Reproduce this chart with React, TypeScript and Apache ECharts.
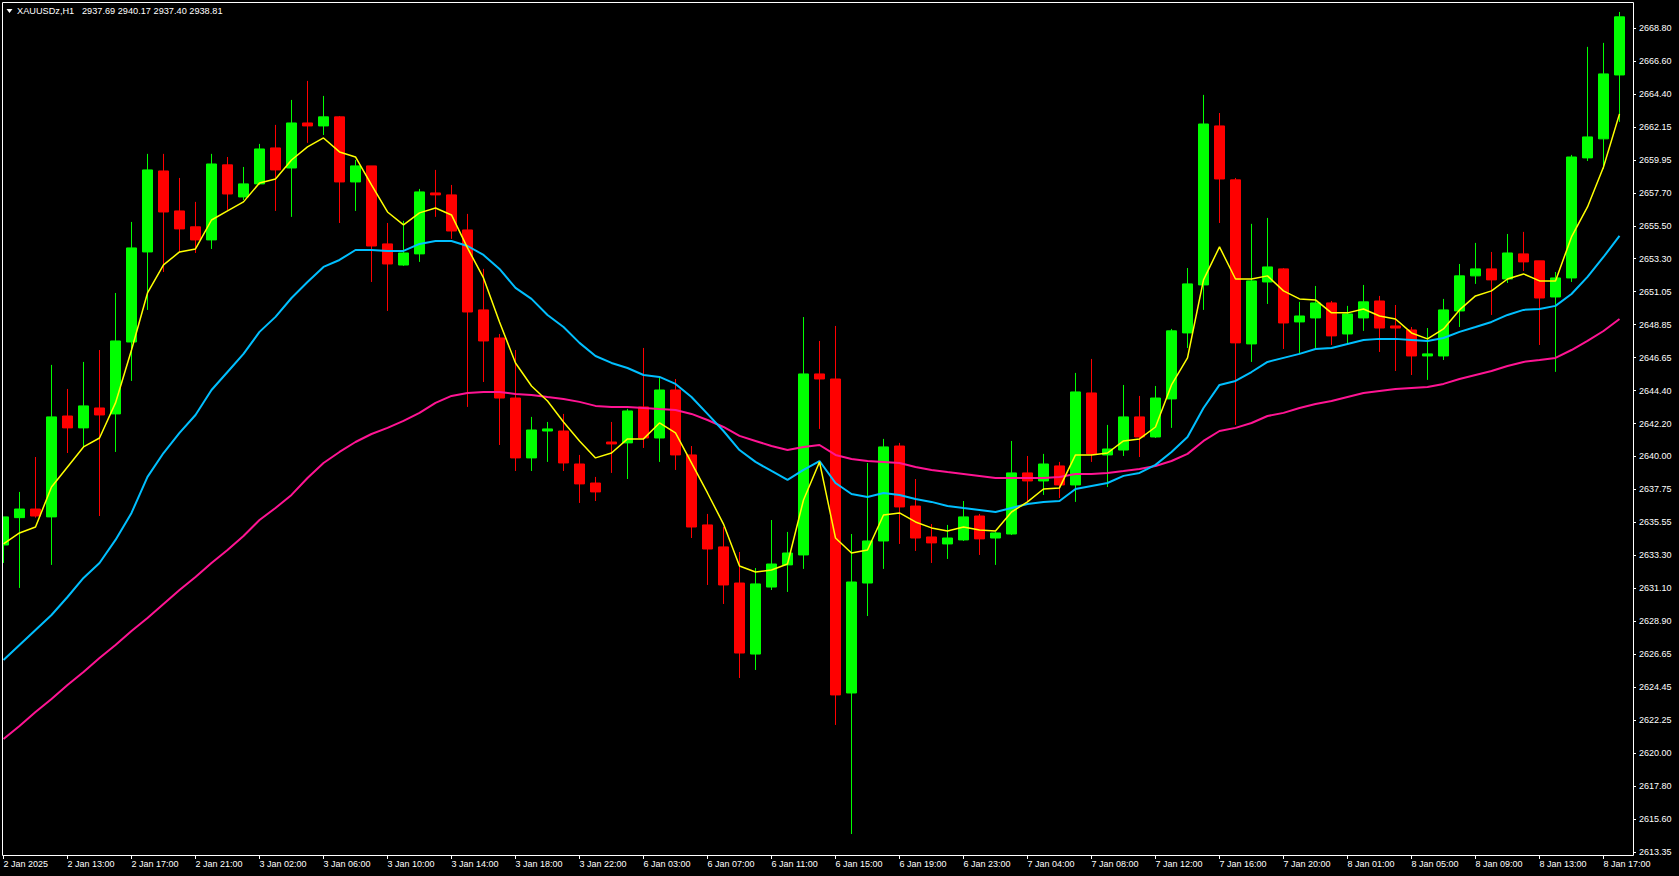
import React, { useEffect, useRef } from "react";
import * as echarts from "echarts";

const SYMBOL_NAME = "XAUUSDz,H1";
const SYMBOL_PRICES = "2937.69 2940.17 2937.40 2938.81";
const FIRST_LABEL = "2 Jan 2025";

const CATEGORIES = [
  "2 Jan 09:00","2 Jan 10:00","2 Jan 11:00","2 Jan 12:00","2 Jan 13:00","2 Jan 14:00","2 Jan 15:00","2 Jan 16:00","2 Jan 17:00","2 Jan 18:00","2 Jan 19:00","2 Jan 20:00","2 Jan 21:00","2 Jan 22:00","2 Jan 23:00",
  "3 Jan 01:00","3 Jan 02:00","3 Jan 03:00","3 Jan 04:00","3 Jan 05:00","3 Jan 06:00","3 Jan 07:00","3 Jan 08:00","3 Jan 09:00","3 Jan 10:00","3 Jan 11:00","3 Jan 12:00","3 Jan 13:00","3 Jan 14:00","3 Jan 15:00","3 Jan 16:00","3 Jan 17:00","3 Jan 18:00","3 Jan 19:00","3 Jan 20:00","3 Jan 21:00","3 Jan 22:00","3 Jan 23:00",
  "6 Jan 01:00","6 Jan 02:00","6 Jan 03:00","6 Jan 04:00","6 Jan 05:00","6 Jan 06:00","6 Jan 07:00","6 Jan 08:00","6 Jan 09:00","6 Jan 10:00","6 Jan 11:00","6 Jan 12:00","6 Jan 13:00","6 Jan 14:00","6 Jan 15:00","6 Jan 16:00","6 Jan 17:00","6 Jan 18:00","6 Jan 19:00","6 Jan 20:00","6 Jan 21:00","6 Jan 22:00","6 Jan 23:00",
  "7 Jan 01:00","7 Jan 02:00","7 Jan 03:00","7 Jan 04:00","7 Jan 05:00","7 Jan 06:00","7 Jan 07:00","7 Jan 08:00","7 Jan 09:00","7 Jan 10:00","7 Jan 11:00","7 Jan 12:00","7 Jan 13:00","7 Jan 14:00","7 Jan 15:00","7 Jan 16:00","7 Jan 17:00","7 Jan 18:00","7 Jan 19:00","7 Jan 20:00","7 Jan 21:00","7 Jan 22:00","7 Jan 23:00",
  "8 Jan 01:00","8 Jan 02:00","8 Jan 03:00","8 Jan 04:00","8 Jan 05:00","8 Jan 06:00","8 Jan 07:00","8 Jan 08:00","8 Jan 09:00","8 Jan 10:00","8 Jan 11:00","8 Jan 12:00","8 Jan 13:00","8 Jan 14:00","8 Jan 15:00","8 Jan 16:00","8 Jan 17:00","8 Jan 18:00",
];

const OPEN = [
  2634.01,2635.85,2636.43,2635.90,2642.69,2641.89,2643.23,2642.83,2647.67,2653.73,
  2659.18,2656.49,2655.42,2654.54,2659.59,2657.43,2658.31,2660.73,2659.38,2662.41,
  2662.21,2662.82,2658.44,2659.52,2654.27,2652.85,2653.60,2657.70,2657.57,2655.21,
  2649.83,2647.94,2643.90,2639.87,2641.68,2641.68,2639.46,2638.18,2640.94,2640.88,
  2643.30,2641.21,2644.44,2640.07,2635.36,2633.88,2631.45,2626.67,2631.18,2632.67,
  2633.34,2645.52,2645.18,2624.05,2631.45,2634.28,2640.67,2636.63,2634.55,2634.08,
  2634.35,2635.96,2634.48,2634.75,2638.86,2638.32,2639.33,2638.05,2644.24,2640.07,
  2640.40,2642.63,2641.28,2643.84,2648.28,2651.51,2662.21,2658.58,2647.54,2651.71,
  2652.59,2649.02,2649.29,2650.30,2648.21,2649.29,2650.43,2648.75,2648.48,2646.73,
  2646.73,2649.76,2652.12,2652.59,2651.91,2653.60,2653.13,2650.70,2651.98,2660.06,
  2661.34,2665.64,
];
const HIGH = [
  2635.90,2637.58,2639.93,2646.13,2644.51,2646.33,2647.13,2650.97,2655.75,2660.33,
  2660.33,2658.71,2657.10,2660.33,2660.12,2659.45,2661.00,2662.28,2663.96,2665.24,
  2664.23,2662.88,2659.92,2659.52,2655.68,2655.82,2657.97,2659.25,2658.24,2656.29,
  2652.59,2648.21,2647.13,2642.63,2642.29,2642.83,2640.07,2638.59,2642.29,2643.17,
  2647.27,2645.25,2645.18,2640.67,2636.10,2635.22,2633.54,2632.46,2635.69,2634.89,
  2649.35,2647.74,2648.75,2634.75,2639.53,2641.15,2640.88,2638.45,2635.42,2635.36,
  2636.97,2636.10,2634.89,2641.01,2640.00,2640.14,2639.60,2645.59,2646.53,2642.09,
  2644.78,2644.04,2644.71,2648.55,2652.65,2664.30,2663.08,2658.71,2655.62,2656.02,
  2652.65,2650.37,2651.44,2650.43,2650.10,2651.51,2650.77,2650.16,2648.68,2648.61,
  2650.57,2652.92,2654.34,2653.73,2654.94,2655.08,2653.13,2652.38,2660.26,2667.53,
  2667.80,2669.88,
];
const LOW = [
  2632.80,2631.12,2635.85,2632.67,2640.20,2640.54,2635.96,2640.27,2645.05,2649.83,
  2652.38,2653.73,2653.66,2653.93,2656.56,2657.23,2658.24,2656.49,2656.09,2661.07,
  2661.60,2655.68,2656.49,2651.71,2649.76,2652.79,2653.06,2656.09,2654.61,2643.30,
  2644.98,2640.74,2638.99,2638.99,2639.60,2638.99,2636.84,2636.97,2638.86,2638.45,
  2640.54,2639.60,2639.06,2634.48,2631.32,2630.04,2625.06,2625.60,2630.98,2630.85,
  2632.40,2641.82,2621.90,2614.56,2629.23,2632.40,2634.08,2633.61,2632.80,2633.07,
  2634.28,2633.34,2632.67,2634.68,2636.91,2637.38,2637.17,2636.91,2639.60,2637.91,
  2640.00,2639.93,2641.21,2641.89,2647.27,2649.83,2655.68,2642.09,2646.33,2650.23,
  2647.20,2646.87,2647.20,2647.47,2647.54,2648.42,2647.00,2645.72,2645.45,2645.12,
  2646.46,2648.68,2651.58,2649.49,2651.64,2652.45,2647.47,2645.66,2651.71,2659.85,
  2659.32,2662.48,
];
const CLOSE = [
  2635.90,2636.43,2635.96,2642.63,2641.89,2643.37,2642.76,2647.74,2654.00,2659.25,
  2656.42,2655.28,2654.54,2659.65,2657.63,2658.31,2660.66,2659.25,2662.41,2662.21,
  2662.82,2658.44,2659.52,2654.13,2652.92,2653.66,2657.77,2657.57,2655.14,2649.69,
  2647.74,2643.90,2639.87,2641.75,2641.82,2639.53,2638.12,2637.58,2640.81,2643.03,
  2641.21,2644.44,2640.07,2635.22,2633.74,2631.32,2626.74,2631.39,2632.73,2633.47,
  2645.52,2645.18,2623.92,2631.52,2634.28,2640.61,2636.57,2634.48,2634.15,2634.48,
  2635.90,2634.42,2634.82,2638.86,2638.32,2639.46,2638.05,2644.31,2640.14,2640.47,
  2642.63,2641.28,2643.90,2648.42,2651.58,2662.34,2658.64,2647.61,2651.78,2652.72,
  2648.95,2649.42,2650.30,2648.08,2649.56,2650.37,2648.61,2648.61,2646.73,2646.87,
  2649.83,2652.12,2652.59,2651.85,2653.66,2653.06,2650.63,2651.98,2660.12,2661.47,
  2665.71,2669.55,
];

const MA_FAST = [
  2634.08,2634.82,2635.22,2637.91,2639.26,2640.61,2641.21,2643.57,2647.13,2650.97,
  2652.86,2653.73,2653.93,2655.88,2656.49,2657.10,2658.37,2658.64,2659.92,2660.80,
  2661.40,2660.46,2660.12,2658.24,2656.42,2655.55,2656.36,2656.69,2656.22,2654.00,
  2651.98,2649.02,2646.26,2644.71,2643.70,2642.29,2641.01,2639.87,2640.20,2641.15,
  2641.15,2642.22,2641.55,2639.53,2637.51,2635.42,2632.60,2632.19,2632.33,2632.73,
  2637.04,2639.60,2634.48,2633.47,2633.67,2636.03,2636.17,2635.56,2635.16,2634.95,
  2635.22,2635.02,2634.95,2636.23,2636.91,2637.78,2637.85,2640.07,2640.07,2640.20,
  2641.01,2641.15,2641.95,2644.78,2646.60,2651.85,2654.07,2651.91,2651.91,2652.12,
  2651.11,2650.57,2650.50,2649.63,2649.63,2649.89,2649.42,2649.22,2648.28,2647.88,
  2648.55,2649.83,2650.77,2651.11,2651.91,2652.25,2651.78,2651.78,2654.74,2656.76,
  2659.45,2663.02,
];
const MA_MID = [
  2626.27,2627.28,2628.29,2629.30,2630.51,2631.79,2632.80,2634.35,2636.17,2638.59,
  2640.20,2641.55,2642.76,2644.44,2645.65,2646.87,2648.35,2649.36,2650.63,2651.71,
  2652.72,2653.19,2653.86,2653.86,2653.80,2653.80,2654.27,2654.47,2654.47,2654.13,
  2653.53,2652.59,2651.31,2650.57,2649.49,2648.68,2647.61,2646.73,2646.26,2645.92,
  2645.45,2645.32,2644.85,2643.97,2642.83,2641.68,2640.40,2639.60,2638.99,2638.39,
  2639.06,2639.66,2638.18,2637.44,2637.24,2637.51,2637.38,2637.11,2636.91,2636.64,
  2636.50,2636.37,2636.23,2636.50,2636.77,2636.91,2636.97,2637.78,2637.98,2638.18,
  2638.66,2638.86,2639.40,2640.27,2641.28,2643.23,2644.78,2645.05,2645.65,2646.33,
  2646.60,2646.87,2647.20,2647.27,2647.54,2647.81,2647.88,2647.88,2647.81,2647.74,
  2647.94,2648.35,2648.68,2649.02,2649.49,2649.83,2649.89,2650.10,2650.90,2652.05,
  2653.39,2654.81,
];
const MA_SLOW = [
  2620.96,2621.83,2622.77,2623.65,2624.59,2625.46,2626.41,2627.28,2628.22,2629.10,
  2630.04,2630.98,2631.86,2632.80,2633.67,2634.62,2635.69,2636.50,2637.38,2638.52,
  2639.53,2640.27,2640.94,2641.48,2641.89,2642.36,2642.90,2643.57,2644.04,2644.24,
  2644.31,2644.31,2644.17,2644.11,2643.97,2643.84,2643.64,2643.37,2643.30,2643.30,
  2643.23,2643.16,2643.10,2642.83,2642.42,2641.95,2641.35,2641.01,2640.67,2640.40,
  2640.61,2640.74,2640.07,2639.80,2639.66,2639.60,2639.53,2639.26,2639.06,2638.92,
  2638.79,2638.66,2638.52,2638.52,2638.52,2638.52,2638.59,2638.79,2638.79,2638.86,
  2638.99,2639.13,2639.33,2639.66,2640.14,2641.01,2641.68,2641.89,2642.22,2642.69,
  2642.90,2643.23,2643.50,2643.70,2643.97,2644.24,2644.38,2644.51,2644.58,2644.64,
  2644.85,2645.18,2645.45,2645.72,2646.06,2646.33,2646.46,2646.60,2647.13,2647.74,
  2648.41,2649.22,
];

const Y_TICK_LABELS = [
  "2613.35","2615.60","2617.80","2620.00","2622.25","2624.45","2626.65","2628.90","2631.10",
  "2633.30","2635.55","2637.75","2640.00","2642.20","2644.40","2646.65","2648.85","2651.05",
  "2653.30","2655.50","2657.70","2659.95","2662.15","2664.40","2666.60","2668.80",
];

const Y_MIN = 2613.35;
const Y_MAX = 2668.8;

const FONT = "'Liberation Sans', Arial, sans-serif";

export default function App() {
  const ref = useRef<HTMLDivElement>(null);

  useEffect(() => {
    if (!ref.current) return;
    const chart = echarts.init(ref.current, undefined, { renderer: "svg" });
    const steps = Y_TICK_LABELS.length - 1;
    const yStep = (Y_MAX - Y_MIN) / steps;
    const tickValues = Y_TICK_LABELS.map((_, i) => Y_MIN + i * yStep);
    const candleData = OPEN.map((o, i) => [o, CLOSE[i], LOW[i], HIGH[i]]);

    const option: any = {
      animation: false,
      backgroundColor: "#000000",
      grid: { left: 3.5, right: 59.5, top: 28, bottom: 24, containLabel: false },
      xAxis: {
        type: "category",
        data: CATEGORIES,
        boundaryGap: false,
        offset: 3,
        axisLine: { show: false },
        axisTick: {
          show: true,
          interval: 3,
          alignWithLabel: true,
          length: 4,
          lineStyle: { color: "#ffffff", width: 1 },
        },
        axisLabel: {
          interval: 3,
          align: "left",
          margin: 4,
          color: "#ffffff",
          fontSize: 9,
          fontFamily: FONT,
          formatter: (v: string, idx: number) => (idx === 0 ? FIRST_LABEL : v),
        },
        splitLine: { show: false },
      },
      yAxis: {
        type: "value",
        position: "right",
        min: Y_MIN,
        max: Y_MAX,
        offset: 13.5,
        axisLine: { show: false },
        axisTick: {
          show: true,
          length: 3,
          customValues: tickValues,
          lineStyle: { color: "#ffffff", width: 1 },
        },
        axisLabel: {
          margin: 6,
          color: "#ffffff",
          fontSize: 9,
          fontFamily: FONT,
          customValues: tickValues,
          formatter: (v: number) => {
            const i = Math.round((v - Y_MIN) / yStep);
            return Y_TICK_LABELS[i] ?? "";
          },
        },
        splitLine: { show: false },
      },
      series: [
        {
          type: "candlestick",
          data: candleData,
          barWidth: 10,
          clip: false,
          silent: true,
          z: 2,
          itemStyle: {
            color: "#00ff00",
            color0: "#ff0000",
            borderColor: "#00ff00",
            borderColor0: "#ff0000",
            borderWidth: 1,
          },
        },
        {
          type: "line",
          data: MA_SLOW,
          symbol: "none",
          showSymbol: false,
          silent: true,
          clip: false,
          z: 3,
          lineStyle: { color: "#ff1493", width: 2 },
        },
        {
          type: "line",
          data: MA_MID,
          symbol: "none",
          showSymbol: false,
          silent: true,
          clip: false,
          z: 4,
          lineStyle: { color: "#00bfff", width: 2 },
        },
        {
          type: "line",
          data: MA_FAST,
          symbol: "none",
          showSymbol: false,
          silent: true,
          clip: false,
          z: 5,
          lineStyle: { color: "#ffff00", width: 1.5 },
        },
      ],
      graphic: [
        {
          type: "rect",
          silent: true,
          z: 100,
          shape: { x: 0, y: 0, width: 2, height: 876 },
          style: { fill: "#000000" },
        },
        {
          type: "rect",
          silent: true,
          z: 101,
          shape: { x: 2.5, y: 2.5, width: 1631, height: 853 },
          style: { fill: "none", stroke: "#ffffff", lineWidth: 1 },
        },
        {
          type: "polygon",
          silent: true,
          z: 101,
          shape: { points: [[6.5, 9], [12.5, 9], [9.5, 13]] },
          style: { fill: "#ffffff" },
        },
        {
          type: "text",
          silent: true,
          z: 101,
          x: 17,
          y: 11,
          style: {
            text: SYMBOL_NAME,
            fill: "#ffffff",
            fontSize: 9.2,
            fontFamily: FONT,
            verticalAlign: "middle",
          },
        },
        {
          type: "text",
          silent: true,
          z: 101,
          x: 82,
          y: 11,
          style: {
            text: SYMBOL_PRICES,
            fill: "#ffffff",
            fontSize: 9.2,
            fontFamily: FONT,
            verticalAlign: "middle",
          },
        },
      ],
    };

    chart.setOption(option);
    return () => chart.dispose();
  }, []);

  return (
    <div
      ref={ref}
      style={{
        position: "fixed",
        left: 0,
        top: 0,
        width: 1679,
        height: 876,
        background: "#000000",
      }}
    />
  );
}
